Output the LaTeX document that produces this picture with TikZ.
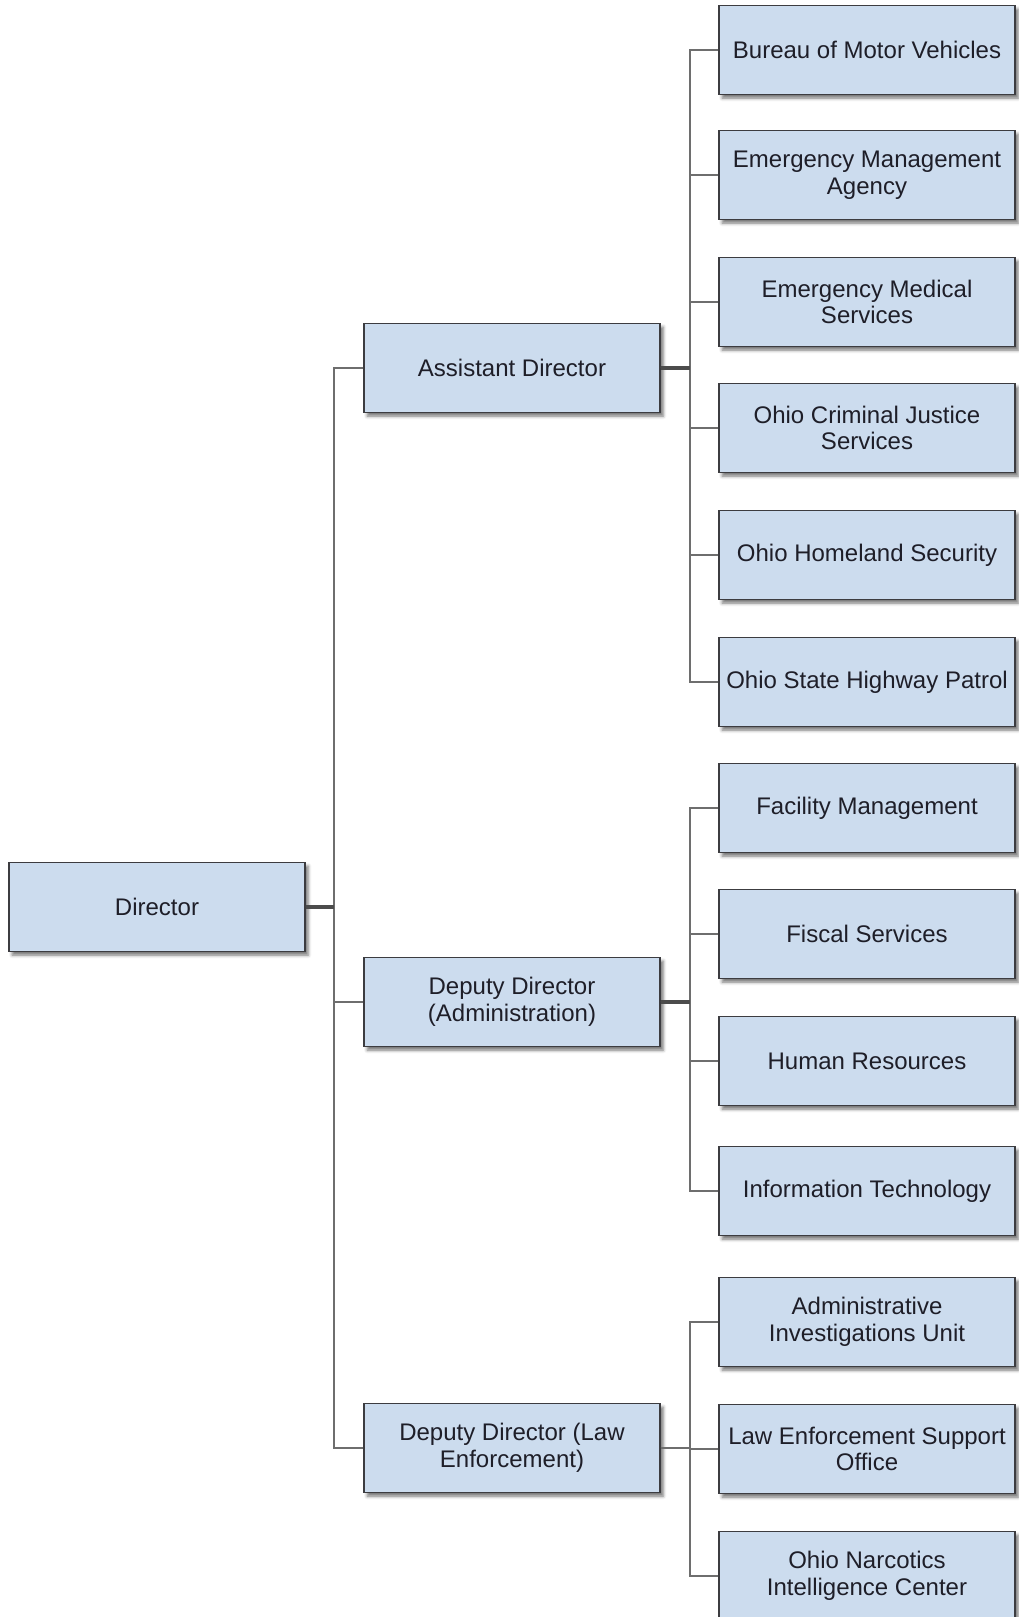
\documentclass[tikz,border=0pt]{standalone}
\usepackage{fontspec}
\setmainfont{Liberation Sans}
\usetikzlibrary{shadows.blur}
\usepackage{xcolor}

\definecolor{boxfill}{RGB}{204,220,238}
\definecolor{boxline}{RGB}{60,60,64}
\definecolor{linkgray}{RGB}{110,110,110}
\definecolor{txtcol}{RGB}{30,30,40}

\begin{document}
\begin{tikzpicture}[x=0.5pt, y=-0.5pt]
        % ================= styles =================
        \tikzset{
            unit/.style={rectangle, draw=boxline, line width=0.7pt, fill=boxfill,
                minimum width=148pt, minimum height=44.5pt, inner sep=2pt,
                align=center, text=txtcol, font=\fontsize{12}{13.4}\selectfont,
                blur shadow={shadow xshift=1.6pt, shadow yshift=-1.8pt,
                    shadow blur radius=1.6pt, shadow opacity=55}},
            link/.style={line width=0.8pt, linkgray},
            stub/.style={line width=1.6pt, black!70}
        }

        \useasboundingbox (0,0) rectangle (1018,1617);

        % ================= top =================
        \node[unit] (dir) at (157,907) {Director};

        % ================= second level =================
        \node[unit] (asst) at (512,368) {Assistant Director};
        \node[unit] (adm) at (512,1002) {Deputy Director\\(Administration)};
        \node[unit] (law) at (512,1448) {Deputy Director (Law\\Enforcement)};

        % ================= units under the assistant director =================
        \node[unit] (a1) at (867,50) {Bureau of Motor Vehicles};
        \node[unit] (a2) at (867,175) {Emergency Management\\Agency};
        \node[unit] (a3) at (867,302) {Emergency Medical\\Services};
        \node[unit] (a4) at (867,428) {Ohio Criminal Justice\\Services};
        \node[unit] (a5) at (867,555) {Ohio Homeland Security};
        \node[unit] (a6) at (867,682) {Ohio State Highway Patrol};

        % ================= units under administration =================
        \node[unit] (b1) at (867,808) {Facility Management};
        \node[unit] (b2) at (867,934) {Fiscal Services};
        \node[unit] (b3) at (867,1061) {Human Resources};
        \node[unit] (b4) at (867,1191) {Information Technology};

        % ================= units under law enforcement =================
        \node[unit] (c1) at (867,1322) {Administrative\\Investigations Unit};
        \node[unit] (c2) at (867,1449) {Law Enforcement Support\\Office};
        \node[unit] (c3) at (867,1576) {Ohio Narcotics\\Intelligence Center};

        % ================= connectors =================
        \foreach \n in {asst,adm,law}
            \draw[link] (dir.east) -- ++(28,0) |- (\n.west);
        \draw[stub] (dir.east) -- ++(28,0);

        \foreach \i in {1,...,6}
            \draw[link] (asst.east) -- ++(29,0) |- (a\i.west);
        \draw[stub] (asst.east) -- ++(29,0);

        \foreach \i in {1,...,4}
            \draw[link] (adm.east) -- ++(29,0) |- (b\i.west);
        \draw[stub] (adm.east) -- ++(29,0);

        \foreach \i in {1,...,3}
            \draw[link] (law.east) -- ++(29,0) |- (c\i.west);

    \end{tikzpicture}
\end{document}
